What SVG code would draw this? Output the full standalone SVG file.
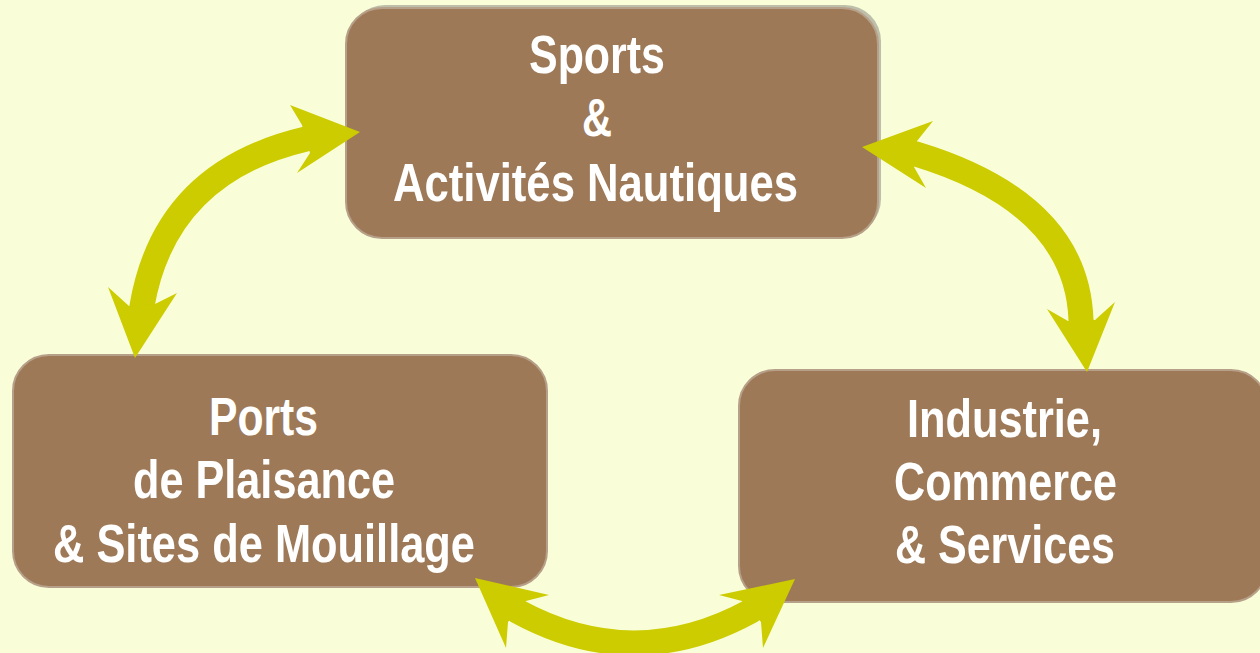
<svg xmlns="http://www.w3.org/2000/svg" width="1260" height="653" viewBox="0 0 1260 653">
<style>
.box{fill:#9E7957;stroke:#B7A089;stroke-width:2}
.shadow{fill:#8E8A84;opacity:0.55}
.lbl{font-family:"Liberation Sans Narrow","Liberation Sans",Arial,sans-serif;font-weight:bold;font-size:54px;fill:#FFFFFF}
.shaft{fill:none;stroke:#CCCC00;stroke-width:25}
.head{fill:#CCCC00}
</style>
<rect x="0" y="0" width="1260" height="653" fill="#F9FED9"/>
<g id="node-sports">
<rect class="shadow" x="349" y="5" width="532" height="230" rx="36"/>
<rect class="box" x="346" y="8" width="532" height="230" rx="36"/>
<text class="lbl" x="529" y="73" textLength="136" lengthAdjust="spacingAndGlyphs">Sports</text>
<text class="lbl" x="582" y="136" textLength="30" lengthAdjust="spacingAndGlyphs">&amp;</text>
<text class="lbl" x="393" y="201" textLength="405" lengthAdjust="spacingAndGlyphs">Activités Nautiques</text>
</g>
<g id="node-ports">
<rect class="box" x="13" y="355" width="534" height="232" rx="36"/>
<text class="lbl" x="209" y="435" textLength="109" lengthAdjust="spacingAndGlyphs">Ports</text>
<text class="lbl" x="133" y="498" textLength="262" lengthAdjust="spacingAndGlyphs">de Plaisance</text>
<text class="lbl" x="53" y="562" textLength="422" lengthAdjust="spacingAndGlyphs">&amp; Sites de Mouillage</text>
</g>
<g id="node-industrie">
<rect class="box" x="739" y="370" width="528" height="232" rx="36"/>
<text class="lbl" x="907" y="437" textLength="195" lengthAdjust="spacingAndGlyphs">Industrie,</text>
<text class="lbl" x="894" y="500" textLength="223" lengthAdjust="spacingAndGlyphs">Commerce</text>
<text class="lbl" x="895" y="563" textLength="220" lengthAdjust="spacingAndGlyphs">&amp; Services</text>
</g>
<g id="connectors">
<path class="shaft" d="M141,318 L142,306 Q165,172 306,139 L318,137"/>
<polygon class="head" points="360,132 290,105 302,125 310,153 297,173"/>
<polygon class="head" points="135,358 108,287 129,306 155,304 177,293"/>
<path class="shaft" d="M904,152 L916,154 Q1077,203 1081,320 L1082,332"/>
<polygon class="head" points="862,147 933,121 917,141 914,167 926,188"/>
<polygon class="head" points="1087,372 1047,309 1068,321 1095,320 1115,302"/>
<path class="shaft" d="M509,605 L517,611 Q634,675 751,611 L759,605"/>
<polygon class="head" points="475,578 549,595 526,601 508,622 506,648"/>
<polygon class="head" points="795,579 719,595 742,601 761,622 763,648"/>
</g>
</svg>
